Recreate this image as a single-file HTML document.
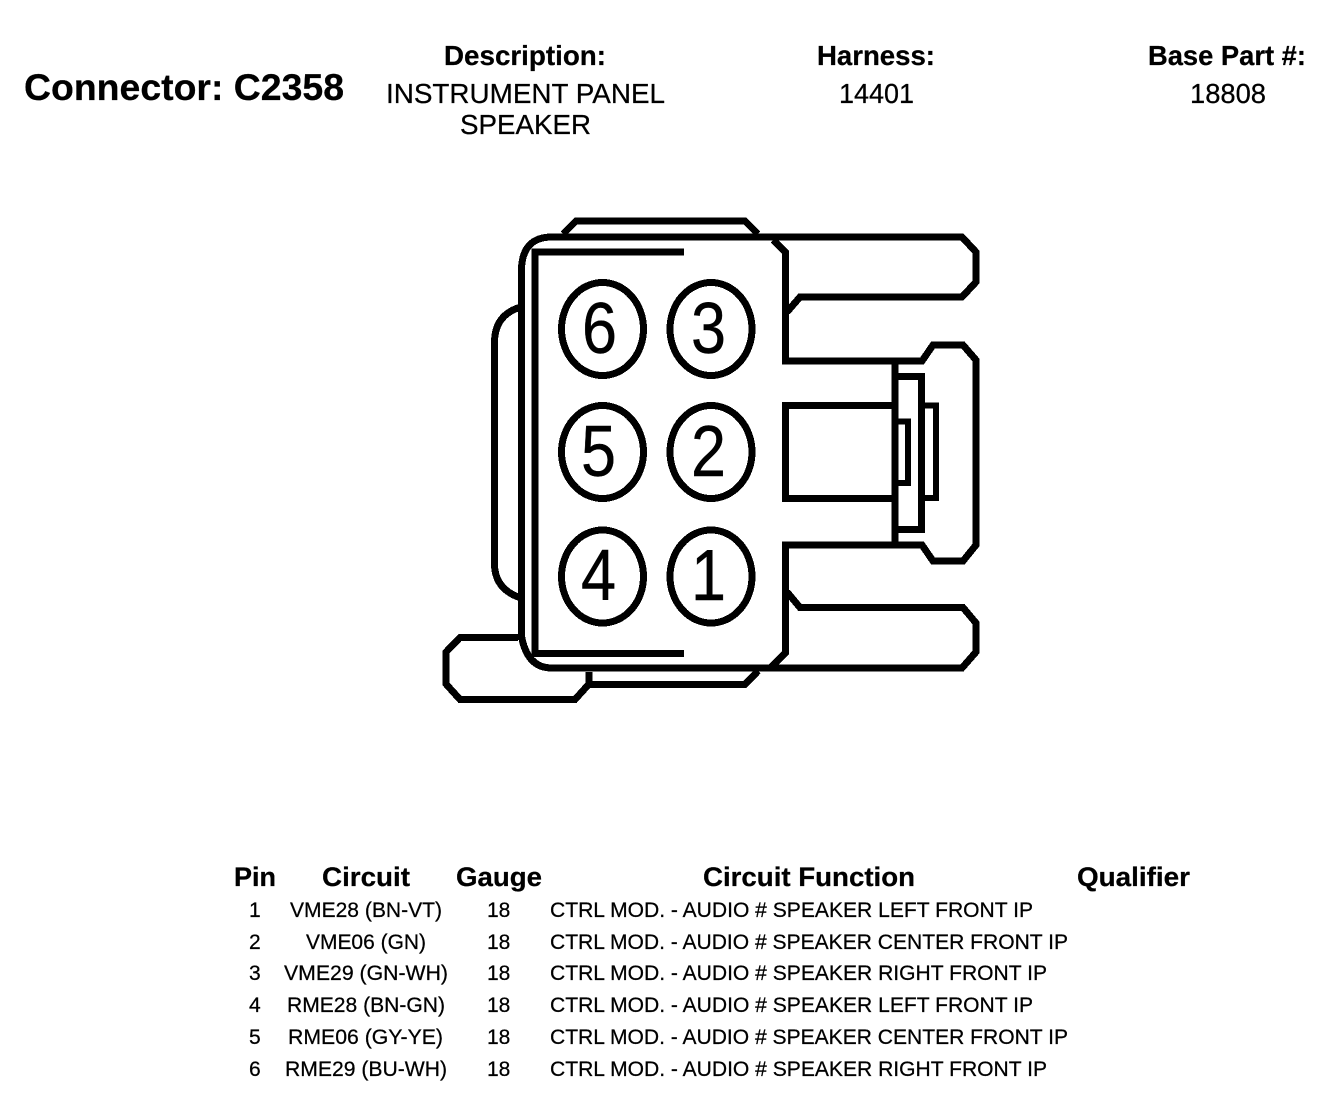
<!DOCTYPE html>
<html lang="en">
<head>
<meta charset="utf-8">
<title>Connector C2358</title>
<style>
html,body{margin:0;padding:0;background:#fff;width:1344px;height:1112px;overflow:hidden}
svg{display:block}
text{font-family:"Liberation Sans",sans-serif;fill:#000;stroke:#000;stroke-width:.25px}
.h{font-weight:bold;font-size:28px}
.t{font-weight:bold;font-size:27px}
.d{font-size:28px}
.r{font-size:21px}
.p{font-size:72px;stroke-width:.4px}
</style>
</head>
<body>
<svg width="1344" height="1112" viewBox="0 0 1344 1112" xmlns="http://www.w3.org/2000/svg">
<rect width="1344" height="1112" fill="#fff"/>

<text class="h" style="font-size:37px" x="24" y="100" textLength="320" lengthAdjust="spacingAndGlyphs">Connector: C2358</text>
<text class="h" x="444" y="65" textLength="162" lengthAdjust="spacingAndGlyphs">Description:</text>
<text class="h" x="817" y="65" textLength="118" lengthAdjust="spacingAndGlyphs">Harness:</text>
<text class="h" x="1148" y="65" textLength="158" lengthAdjust="spacingAndGlyphs">Base Part #:</text>
<text class="d" x="386" y="103" textLength="279" lengthAdjust="spacingAndGlyphs">INSTRUMENT PANEL</text>
<text class="d" x="460" y="134" textLength="131" lengthAdjust="spacingAndGlyphs">SPEAKER</text>
<text class="d" x="839" y="103" textLength="75" lengthAdjust="spacingAndGlyphs">14401</text>
<text class="d" x="1190" y="103" textLength="76" lengthAdjust="spacingAndGlyphs">18808</text>

<g fill="none" stroke="#000" stroke-width="7" shape-rendering="crispEdges">
  <ellipse cx="602.5" cy="329" rx="41" ry="46.5"/>
  <ellipse cx="711" cy="329" rx="41" ry="46.5"/>
  <ellipse cx="602.5" cy="452" rx="41" ry="46.5"/>
  <ellipse cx="711" cy="452" rx="41" ry="46.5"/>
  <ellipse cx="602.5" cy="576.5" rx="41" ry="46.5"/>
  <ellipse cx="711" cy="576.5" rx="41" ry="46.5"/>

  <path d="M521.5 640 V268 Q523 237 552 237 H962 L976 252 V282 L962 297 H800 L787 312"/>
  <path d="M773 240 L785.5 252 V361 H922 L933 345 H963 L976 360 V545 L963 561 H933 L922 545 H785.5 V653 L770 668"/>
  <path d="M521.5 636 Q527 668 552 668 H962 L976 652 V623 L963 607.5 H800 L787 592"/>
  <path d="M684 252 H535 V653.5 H684"/>
  <path d="M521 307 Q496 314 494.5 340 V566 Q496 590 521 598"/>
  <path d="M563 234 L576 221 H745 L758 234"/>
  <path d="M518 637.5 H460 L446 652 V684 L460 699.5 H575 L589 684 V672"/>
  <path d="M589 684.5 H745 L758 671"/>
  <path d="M785.5 405.5 H895 M785.5 498.5 H895 M785.5 402 V502"/>
  <path d="M895 361 V545"/>
  <path d="M895 376.5 H921.5 V529.5 H895"/>
  <path d="M921.5 405.5 H936 V498 H921.5" stroke-width="6"/>
  <path d="M895 421.5 H908 V483 H895" stroke-width="6"/>
</g>

<text class="p" x="582" y="353" textLength="35" lengthAdjust="spacingAndGlyphs">6</text>
<text class="p" x="691" y="353" textLength="35" lengthAdjust="spacingAndGlyphs">3</text>
<text class="p" x="581" y="476" textLength="35" lengthAdjust="spacingAndGlyphs">5</text>
<text class="p" x="691" y="476" textLength="35" lengthAdjust="spacingAndGlyphs">2</text>
<text class="p" x="581" y="600" textLength="35" lengthAdjust="spacingAndGlyphs">4</text>
<text class="p" x="691" y="600" textLength="35" lengthAdjust="spacingAndGlyphs">1</text>

<text class="t" x="234" y="886" textLength="42" lengthAdjust="spacingAndGlyphs">Pin</text>
<text class="t" x="322" y="886" textLength="88" lengthAdjust="spacingAndGlyphs">Circuit</text>
<text class="t" x="456" y="886" textLength="86" lengthAdjust="spacingAndGlyphs">Gauge</text>
<text class="t" x="703" y="886" textLength="212" lengthAdjust="spacingAndGlyphs">Circuit Function</text>
<text class="t" x="1077" y="886" textLength="113" lengthAdjust="spacingAndGlyphs">Qualifier</text>

<g>
<text class="r" x="249" y="917">1</text>
<text class="r" x="290" y="917" textLength="152" lengthAdjust="spacingAndGlyphs">VME28 (BN-VT)</text>
<text class="r" x="487" y="917">18</text>
<text class="r" x="550" y="917" textLength="483" lengthAdjust="spacingAndGlyphs">CTRL MOD. - AUDIO # SPEAKER LEFT FRONT IP</text>

<text class="r" x="249" y="949">2</text>
<text class="r" x="306" y="949" textLength="120" lengthAdjust="spacingAndGlyphs">VME06 (GN)</text>
<text class="r" x="487" y="949">18</text>
<text class="r" x="550" y="949" textLength="518" lengthAdjust="spacingAndGlyphs">CTRL MOD. - AUDIO # SPEAKER CENTER FRONT IP</text>

<text class="r" x="249" y="980">3</text>
<text class="r" x="284" y="980" textLength="164" lengthAdjust="spacingAndGlyphs">VME29 (GN-WH)</text>
<text class="r" x="487" y="980">18</text>
<text class="r" x="550" y="980" textLength="497" lengthAdjust="spacingAndGlyphs">CTRL MOD. - AUDIO # SPEAKER RIGHT FRONT IP</text>

<text class="r" x="249" y="1012">4</text>
<text class="r" x="287" y="1012" textLength="158" lengthAdjust="spacingAndGlyphs">RME28 (BN-GN)</text>
<text class="r" x="487" y="1012">18</text>
<text class="r" x="550" y="1012" textLength="483" lengthAdjust="spacingAndGlyphs">CTRL MOD. - AUDIO # SPEAKER LEFT FRONT IP</text>

<text class="r" x="249" y="1044">5</text>
<text class="r" x="288" y="1044" textLength="155" lengthAdjust="spacingAndGlyphs">RME06 (GY-YE)</text>
<text class="r" x="487" y="1044">18</text>
<text class="r" x="550" y="1044" textLength="518" lengthAdjust="spacingAndGlyphs">CTRL MOD. - AUDIO # SPEAKER CENTER FRONT IP</text>

<text class="r" x="249" y="1076">6</text>
<text class="r" x="285" y="1076" textLength="162" lengthAdjust="spacingAndGlyphs">RME29 (BU-WH)</text>
<text class="r" x="487" y="1076">18</text>
<text class="r" x="550" y="1076" textLength="497" lengthAdjust="spacingAndGlyphs">CTRL MOD. - AUDIO # SPEAKER RIGHT FRONT IP</text>
</g>
</svg>
</body>
</html>
